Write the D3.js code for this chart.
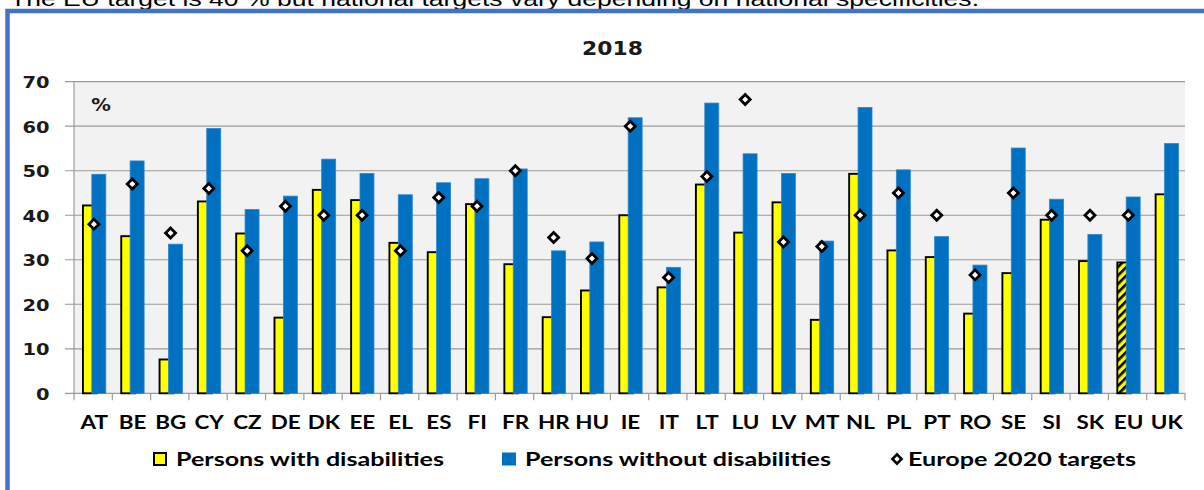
<!DOCTYPE html>
<html>
<head>
<meta charset="utf-8">
<script src="https://cdn.jsdelivr.net/npm/d3@7"></script>
<style>
  html, body { margin: 0; padding: 0; background: #ffffff; overflow: hidden; }
  svg { display: block; }
</style>
</head>
<body>
<svg id="chart" width="1204" height="490"></svg>
<script>
// Employment rate 2018, persons with / without disabilities, plus national Europe 2020 targets
const categories = ["AT","BE","BG","CY","CZ","DE","DK","EE","EL","ES","FI","FR","HR","HU","IE","IT","LT","LU","LV","MT","NL","PL","PT","RO","SE","SI","SK","EU","UK"];
const withDisabilities = [42.2,35.3,7.6,43.1,35.9,17.0,45.7,43.4,33.8,31.7,42.5,29.0,17.1,23.1,40.0,23.8,46.9,36.1,42.9,16.5,49.3,32.1,30.6,17.9,27.0,39.0,29.7,29.4,44.7];
const withoutDisabilities = [49.2,52.2,33.5,59.5,41.3,44.3,52.6,49.4,44.6,47.3,48.2,50.4,32.0,34.0,61.9,28.3,65.2,53.8,49.4,34.2,64.2,50.2,35.2,28.8,55.1,43.6,35.7,44.1,56.1];
const targets = [38,47,36,46,32,42,40,40,32,44,42,50,35,30.3,60,26,48.7,66,34,33,40,45,40,26.6,45,40,40,40,null];
const yTicks = [0,10,20,30,40,50,60,70];
const seriesNames = ["Persons with disabilities","Persons without disabilities","Europe 2020 targets"];
const chartTitle = "2018";
const headerNote = "The EU target is 40 % but national targets vary depending on national specificities.";

const svg = d3.select("#chart");
const W = 1204, H = 490;
const plot = { left: 74, right: 1185, top: 81.7, bottom: 393.3 };
const YELLOW = "#FFFF00", BLUE = "#0070C0", FRAME = "#4472C4";
const SX = 1.15; // horizontal stretch of labels

// hatch pattern for the EU aggregate bar
const defs = svg.append("defs");
const pat = defs.append("pattern")
  .attr("id", "hatch").attr("patternUnits", "userSpaceOnUse")
  .attr("width", 6).attr("height", 6)
  .attr("patternTransform", "rotate(-45)");
pat.append("rect").attr("width", 6).attr("height", 6).attr("fill", YELLOW);
pat.append("rect").attr("width", 6).attr("height", 2.6).attr("fill", "#000");

// note above the frame
svg.append("text")
  .attr("x", 10).attr("y", 6)
  .attr("font-family", "Liberation Sans, Arial, sans-serif")
  .attr("font-size", 21)
  .attr("textLength", 969).attr("lengthAdjust", "spacingAndGlyphs")
  .attr("fill", "#000")
  .text(headerNote);

// frame
svg.append("rect").attr("x", 10).attr("y", 13).attr("width", W).attr("height", H).attr("fill", "#fff");
svg.append("path")
  .attr("d", `M7.5,${H + 5} L7.5,11 L${W + 5},11`)
  .attr("fill", "none").attr("stroke", FRAME).attr("stroke-width", 4.5);

// scales
const x = d3.scaleBand().domain(categories).range([plot.left, plot.right]).padding(0);
const y = d3.scaleLinear().domain([0, 70]).range([plot.bottom, plot.top]);
const bw = x.bandwidth();
const off1 = bw * 0.21, off2 = bw * 0.465, barW = bw * 0.365;

// plot area
svg.append("rect")
  .attr("x", plot.left).attr("y", plot.top)
  .attr("width", plot.right - plot.left).attr("height", plot.bottom - plot.top)
  .attr("fill", "#F2F2F2");

// gridlines with outer ticks
svg.append("g").selectAll("line").data(yTicks).join("line")
  .attr("x1", plot.left - 9).attr("x2", plot.right)
  .attr("y1", d => y(d)).attr("y2", d => y(d))
  .attr("stroke", "#9A9A9A").attr("stroke-width", 1.2);

// y axis line
svg.append("line")
  .attr("x1", plot.left).attr("x2", plot.left)
  .attr("y1", plot.top).attr("y2", plot.bottom)
  .attr("stroke", "#9A9A9A").attr("stroke-width", 1.2);

// category boundary ticks
const bounds = categories.map(c => x(c)).concat([plot.right]);
svg.append("g").selectAll("line").data(bounds).join("line")
  .attr("x1", d => d).attr("x2", d => d)
  .attr("y1", plot.bottom).attr("y2", plot.bottom + 7)
  .attr("stroke", "#9A9A9A").attr("stroke-width", 1.2);

// y labels
svg.append("g").selectAll("text").data(yTicks).join("text")
  .attr("transform", d => `translate(49.5,${y(d) + 6.5}) scale(1.18,1)`)
  .attr("text-anchor", "end")
  .attr("font-family", "DejaVu Sans, Verdana, sans-serif")
  .attr("font-weight", "bold").attr("font-size", 16.5)
  .attr("fill", "#1a1a1a")
  .text(d => d);

// unit label
svg.append("text")
  .attr("transform", `translate(101,${y(65) + 7}) scale(${SX},1)`)
  .attr("text-anchor", "middle")
  .attr("font-family", "DejaVu Sans, Verdana, sans-serif")
  .attr("font-weight", "bold").attr("font-size", 17)
  .attr("fill", "#1a1a1a")
  .text("%");

// title
svg.append("text")
  .attr("transform", `translate(612.5,55) scale(${SX},1)`)
  .attr("text-anchor", "middle")
  .attr("font-family", "DejaVu Sans, Verdana, sans-serif")
  .attr("font-weight", "bold").attr("font-size", 19)
  .attr("fill", "#1a1a1a")
  .text(chartTitle);

// bars: with disabilities (drawn first, overlapped by the other series)
svg.append("g").selectAll("rect").data(categories).join("rect")
  .attr("x", c => x(c) + off1 + 0.9)
  .attr("y", (c, i) => y(withDisabilities[i]))
  .attr("width", barW)
  .attr("height", (c, i) => y(0) - y(withDisabilities[i]))
  .attr("fill", c => c === "EU" ? "url(#hatch)" : YELLOW)
  .attr("stroke", "#000").attr("stroke-width", 1.9);

// bars: without disabilities
svg.append("g").selectAll("rect").data(categories).join("rect")
  .attr("x", c => x(c) + off2)
  .attr("y", (c, i) => y(withoutDisabilities[i]))
  .attr("width", barW)
  .attr("height", (c, i) => y(0) - y(withoutDisabilities[i]))
  .attr("fill", BLUE)
  .attr("stroke", "#2F86CF").attr("stroke-width", 0.8);

// targets
const diamond = d3.symbol().type(d3.symbolSquare).size(50);
const tData = categories.map((c, i) => ({ c, v: targets[i] })).filter(d => d.v != null);
svg.append("g").selectAll("path").data(tData).join("path")
  .attr("d", diamond)
  .attr("transform", d => `translate(${x(d.c) + (off1 + off2 + barW) / 2},${y(d.v)}) rotate(45)`)
  .attr("fill", "#fff").attr("stroke", "#000").attr("stroke-width", 2.8);

// x labels
svg.append("g").selectAll("text").data(categories).join("text")
  .attr("transform", c => `translate(${x(c) + bw / 2 + 1},429) scale(${SX},1)`)
  .attr("text-anchor", "middle")
  .attr("font-family", "Lato, sans-serif")
  .attr("font-weight", "bold").attr("font-size", 19.5)
  .attr("fill", "#000")
  .text(c => c);

// legend
const lg = svg.append("g").attr("font-family", "Lato, sans-serif")
  .attr("font-weight", "bold").attr("font-size", 19.5).attr("fill", "#000");
lg.append("rect").attr("x", 154).attr("y", 453).attr("width", 12).attr("height", 12)
  .attr("fill", YELLOW).attr("stroke", "#000").attr("stroke-width", 2);
lg.append("text").attr("x", 176).attr("y", 466)
  .attr("textLength", 268).attr("lengthAdjust", "spacingAndGlyphs").text(seriesNames[0]);
lg.append("rect").attr("x", 502).attr("y", 452.5).attr("width", 14).attr("height", 13).attr("fill", BLUE);
lg.append("text").attr("x", 525).attr("y", 466)
  .attr("textLength", 306).attr("lengthAdjust", "spacingAndGlyphs").text(seriesNames[1]);
lg.append("path").attr("d", d3.symbol().type(d3.symbolSquare).size(42))
  .attr("transform", "translate(897,459) rotate(45)")
  .attr("fill", "#fff").attr("stroke", "#000").attr("stroke-width", 2.6);
lg.append("text").attr("x", 908).attr("y", 466)
  .attr("textLength", 228).attr("lengthAdjust", "spacingAndGlyphs").text(seriesNames[2]);
</script>
</body>
</html>
